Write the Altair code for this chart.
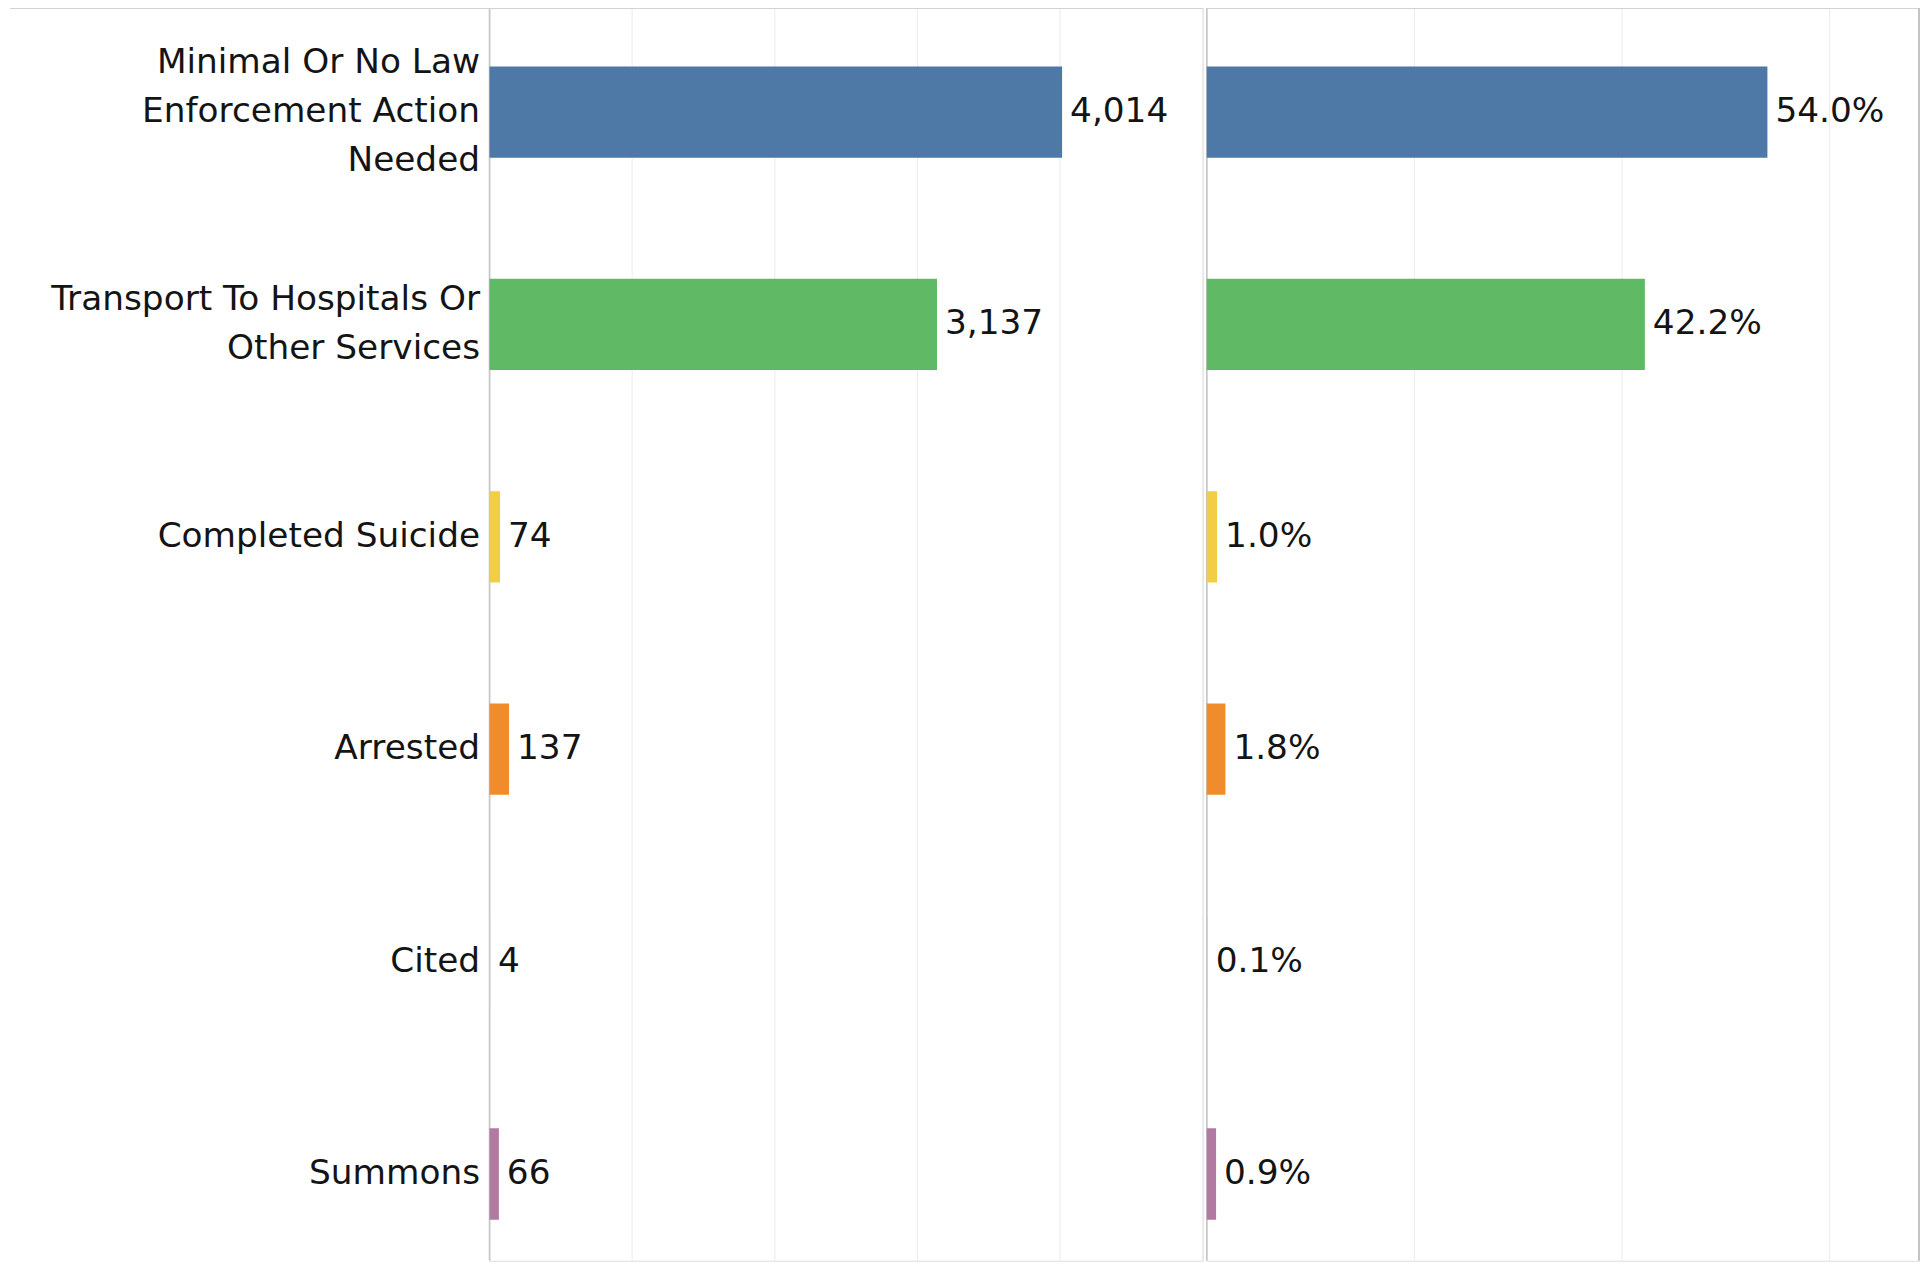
import altair as alt
import pandas as pd

categories = [
    "Minimal Or No Law|Enforcement Action|Needed",
    "Transport To Hospitals Or|Other Services",
    "Completed Suicide",
    "Arrested",
    "Cited",
    "Summons",
]
counts = [4014, 3137, 74, 137, 4, 66]
percents = [0.540, 0.422, 0.010, 0.018, 0.001, 0.009]
colors = ["#4e79a7", "#60ba65", "#f2cd46", "#f08c2c", "#d9c6d3", "#b07aa1"]

count_ticks = [0, 1000, 2000, 3000, 4000, 5000]
pct_ticks = [0, 0.2, 0.4, 0.6]

df = pd.DataFrame({"cat": categories, "count": counts, "pct": percents})
grid_left = pd.DataFrame({"count": count_ticks})
grid_right = pd.DataFrame({"pct": pct_ticks})
one = pd.DataFrame({"a": [0]})

FONT = "DejaVu Sans"
FS = 34.5
LH = 49
TXT = "#141414"
H = 1260
YR = 1278
W1 = 717
W2 = 716
LINE = "#d2d2d2"
ZERO = "#c6c6c6"
GRID = "#ebebeb"

yscale = alt.Scale(paddingInner=0.57, paddingOuter=0.278, range=[0, YR])
color = alt.Color("cat:N", scale=alt.Scale(domain=categories, range=colors), legend=None)
xs_left = alt.Scale(domain=[0, 5000], nice=False, zero=True)
xs_right = alt.Scale(domain=[0, 0.686], nice=False, zero=True)

label_offset = {
    "condition": [
        {"test": "length(split(datum.value, '|')) == 3", "value": -LH},
        {"test": "length(split(datum.value, '|')) == 2", "value": -LH / 2},
    ],
    "value": 0,
}

y_left = alt.Y(
    "cat:N", sort=categories, scale=yscale,
    axis=alt.Axis(
        title=None, labelExpr="split(datum.label, '|')", labelFont=FONT,
        labelFontSize=FS, labelColor=TXT, labelLineHeight=LH, labelPadding=10,
        labelLimit=0, labelOffset=label_offset, ticks=False, domain=False,
        minExtent=482, maxExtent=482, grid=False,
    ),
)
y_right = alt.Y("cat:N", sort=categories, scale=yscale, axis=None)

# gridlines (light) and zero lines (darker), drawn from the tick arrays
def grid_layer(data, field, scale, zero_val):
    return alt.Chart(data).mark_rule().encode(
        x=alt.X(f"{field}:Q", scale=scale, axis=None),
        color=alt.condition(f"datum.{field} == {zero_val}", alt.value(ZERO), alt.value(GRID)),
        strokeWidth=alt.condition(f"datum.{field} == {zero_val}", alt.value(1.5), alt.value(1)),
    )

base = alt.Chart(df)

left_grid = grid_layer(grid_left, "count", xs_left, 0)
left_bars = base.mark_bar().encode(
    y=y_left, x=alt.X("count:Q", scale=xs_left, axis=None), color=color)
left_text = base.mark_text(align="left", baseline="middle", dx=8, font=FONT,
                           fontSize=FS, color=TXT).encode(
    y=alt.Y("cat:N", sort=categories), x="count:Q",
    text=alt.Text("count:Q", format=","))
left_top = alt.Chart(one).mark_rule(color=LINE, strokeWidth=1.5).encode(
    x=alt.value(-482), x2=alt.value(W1), y=alt.value(1))

left = alt.layer(left_grid, left_bars, left_text, left_top).properties(width=W1, height=H)

right_grid = grid_layer(grid_right, "pct", xs_right, 0)
right_bars = base.mark_bar().encode(
    y=y_right, x=alt.X("pct:Q", scale=xs_right, axis=None), color=color)
right_text = base.mark_text(align="left", baseline="middle", dx=8, font=FONT,
                            fontSize=FS, color=TXT).encode(
    y=alt.Y("cat:N", sort=categories), x="pct:Q",
    text=alt.Text("pct:Q", format=".1%"))
right_top = alt.Chart(one).mark_rule(color=LINE, strokeWidth=1.5).encode(
    x=alt.value(0), x2=alt.value(W2), y=alt.value(1))
right_edge = alt.Chart(one).mark_rule(color="#c4c4c4", strokeWidth=2).encode(
    x=alt.value(W2), y=alt.value(0), y2=alt.value(H))

right = alt.layer(right_grid, right_bars, right_text, right_top, right_edge).properties(width=W2, height=H)

chart = (
    alt.hconcat(left, right, spacing=0)
    .resolve_scale(y="shared")
    .configure_view(stroke="transparent", strokeWidth=0)
    .configure(padding={"left": 0, "top": -6, "right": 0, "bottom": 0}, background="white")
)

chart.save("out.html", embed_options={"renderer": "svg", "actions": False})
